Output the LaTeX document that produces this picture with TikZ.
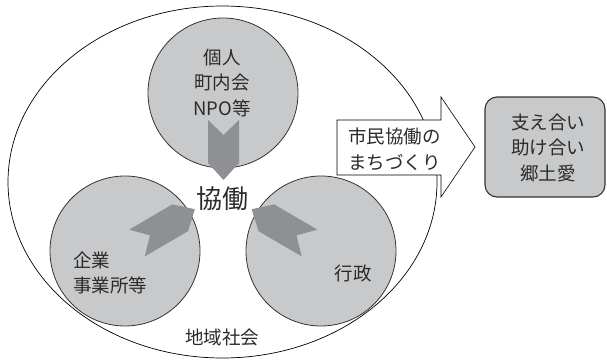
\documentclass[tikz,border=0pt]{standalone}
\usepackage{fontspec}
\usetikzlibrary{shapes.geometric}
\setmainfont{Noto Sans CJK JP}
\definecolor{circfill}{HTML}{C8C9CB}
\definecolor{chevfill}{HTML}{8F9093}
\definecolor{edge}{HTML}{333333}
\definecolor{txt}{HTML}{2A2A2A}
\tikzset{
  circ/.style={circle, fill=circfill, draw=edge, line width=0.8pt, minimum size=150pt, inner sep=0pt},
  lbl/.style={text=txt, font=\fontsize{18.5}{25.5}\selectfont, inner sep=0pt},
  biglbl/.style={text=txt, font=\fontsize{26}{30}\selectfont, inner sep=0pt},
  chev/.style={fill=chevfill, draw=none},
  goalbox/.style={rectangle, rounded corners=12pt, fill=circfill, draw=edge, line width=1.1pt, minimum width=120pt, minimum height=100pt, inner sep=0pt},
}
\newcommand\mychev[5]{% x, y, angle, length, side
  \fill[chev, shift={(#1,#2)}, rotate=#3] (0,15.5) -- (15,0) -- (0,-15.5) -- (#5,-15.5) -- (#4,0) -- (#5,15.5) -- cycle;}
\begin{document}
\begin{tikzpicture}[x=1pt, y=-1pt]
\useasboundingbox (0,0) rectangle (607,361);
% community ellipse
\node[ellipse, draw=black, line width=0.7pt, minimum width=429pt, minimum height=352pt, inner sep=0pt] (soc) at (222.5,182) {};
% three circles
\node[circ] (ind) at (223,93) {};
\node[circ] (biz) at (125,251) {};
\node[circ] (gov) at (321,251) {};
% chevrons
\mychev{223.5}{120}{-90}{60}{43}
\mychev{137}{243}{30.3}{67}{50}
\mychev{309.5}{243}{149.7}{67}{50}
% texts
\node[lbl, align=center] (indt) at (222,83) {個人\\町内会\\NPO等};
\node[biglbl] (kyodo) at (222,199) {協働};
\node[lbl, align=left, anchor=west] (bizt) at (73,273) {企業\\事業所等};
\node[lbl] (govt) at (353,273) {行政};
\node[lbl] (soct) at (222,337) {地域社会};
% block arrow
\coordinate (a1) at (337,120);
\coordinate (a2) at (441,120);
\coordinate (a3) at (441,97);
\coordinate (a4) at (475,147);
\coordinate (a5) at (441,197);
\coordinate (a6) at (441,175);
\coordinate (a7) at (337,175);
\draw[fill=white, draw=black, line width=0.6pt] (a1) -- (a2) -- (a3) -- (a4) -- (a5) -- (a6) -- (a7) -- cycle;
\node[lbl, align=left, anchor=west] (arrt) at (348,149.5) {市民協働の\\まちづくり};
% goal box
\node[goalbox] (goal) at (545,147) {};
\node[lbl, align=center] (goalt) at (548,147.5) {支え合い\\助け合い\\郷土愛};
\end{tikzpicture}
\end{document}
